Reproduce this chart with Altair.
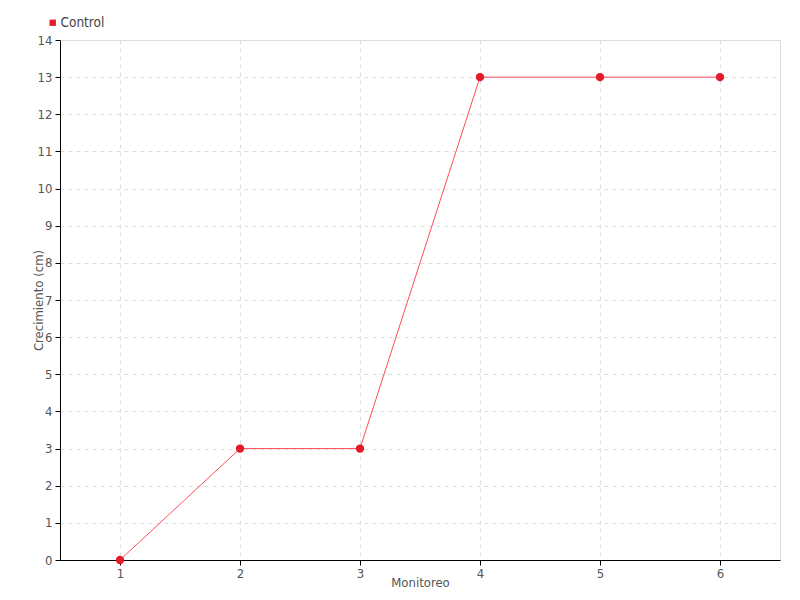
import altair as alt
import pandas as pd

monitoreo = [1, 2, 3, 4, 5, 6]
control = [0, 3, 3, 13, 13, 13]
series = ["Control"] * 6

df = pd.DataFrame({"Monitoreo": monitoreo, "Crecimiento": control, "Serie": series})

FONT = "DejaVu Sans Condensed"
LINE = "#ff4d5a"
DOT = "#e31a27"

x = alt.X("Monitoreo:Q", scale=alt.Scale(domain=[0.5, 6.5], nice=False, zero=False),
          axis=alt.Axis(title="Monitoreo", values=monitoreo, format="d", grid=True,
                        gridDash=[4, 4], gridColor="#dddddd", domainColor="#000000",
                        tickColor="#000000", tickSize=5, labelFontSize=13, labelColor="#555555",
                        titleFontSize=13, titleFontWeight="normal", titleColor="#555555",
                        titleY=22, titleBaseline="middle", labelPadding=2,
                        labelFont=FONT, titleFont=FONT))
y = alt.Y("Crecimiento:Q", scale=alt.Scale(domain=[0, 14], nice=False),
          axis=alt.Axis(title="Crecimiento (cm)", values=list(range(0, 15)), grid=True,
                        gridDash=[4, 4], gridColor="#dddddd", domainColor="#000000",
                        tickColor="#000000", tickSize=5, labelFontSize=13, labelColor="#555555",
                        titleFontSize=13, titleFontWeight="normal", titleColor="#555555",
                        titleX=-22, titleBaseline="middle", labelPadding=3,
                        labelFont=FONT, titleFont=FONT))

line = alt.Chart(df).mark_line(color=LINE, strokeWidth=1).encode(x=x, y=y)
points = alt.Chart(df).mark_point(filled=True, size=70, opacity=1).encode(
    x=x, y=y,
    color=alt.Color("Serie:N", scale=alt.Scale(range=[DOT]),
                    legend=alt.Legend(title=None, orient="none", legendX=-14, legendY=-24,
                                      symbolType="square", symbolSize=40, labelFontSize=13.5,
                                      labelColor="#444444", labelFont=FONT, labelOffset=1)))

chart = (line + points).properties(
    width=720, height=520,
    autosize=alt.AutoSizeParams(type="none"),
    padding={"left": 52, "top": 32, "right": 12, "bottom": 32},
).configure_view(stroke=None).configure(font=FONT)

chart.save("out.html", embed_options={"renderer": "svg", "actions": False})
